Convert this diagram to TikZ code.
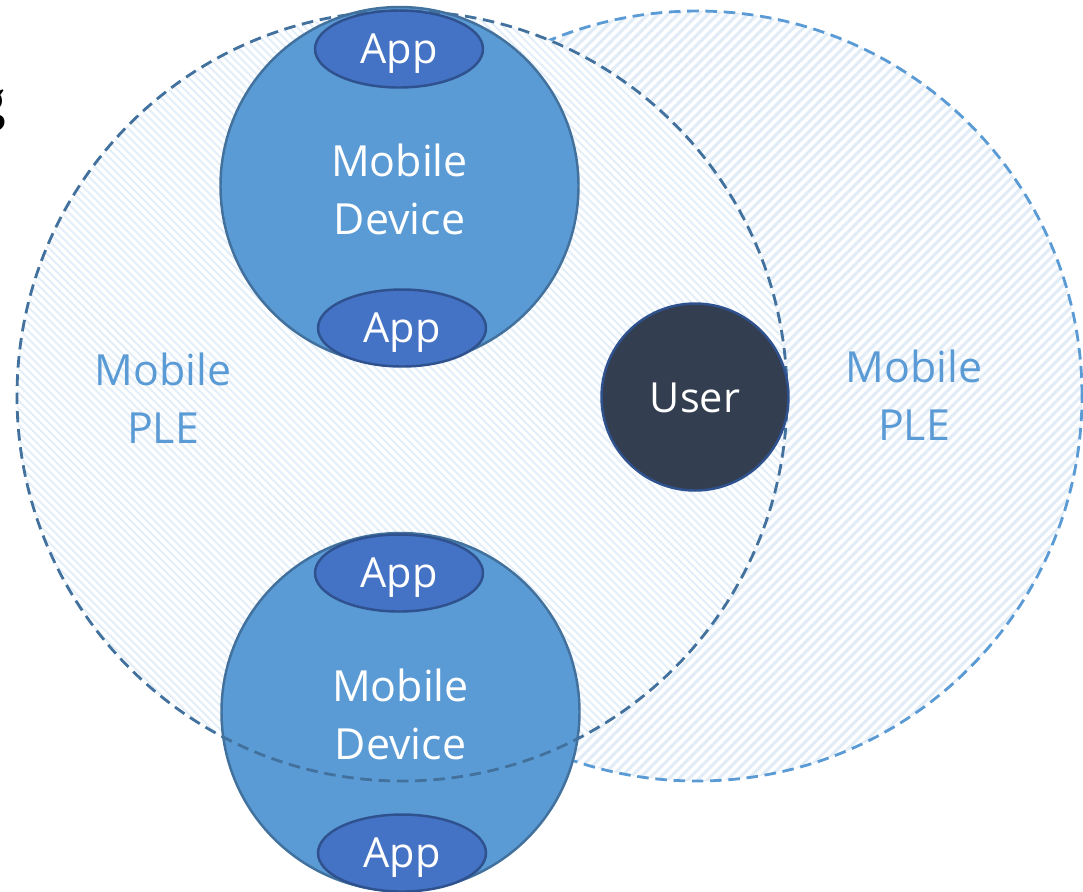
\documentclass[tikz,border=0pt]{standalone}
\usepackage{fontspec}
\setmainfont{Open Sans}
\newfontfamily\gfont{Liberation Serif}
\usetikzlibrary{patterns.meta,shapes.geometric}
\definecolor{pleblue}{HTML}{5B9BD5}
\definecolor{pledark}{HTML}{41719C}
\definecolor{hatchleftc}{HTML}{E3EEF9}
\definecolor{hatchrightc}{HTML}{E1ECF7}
\definecolor{appblue}{HTML}{4472C4}
\definecolor{appline}{HTML}{2F528F}
\definecolor{userfill}{HTML}{333F50}
\tikzset{
  device/.style={circle,draw=pledark,fill=pleblue,line width=0.7pt,minimum size=3.58cm,inner sep=0pt,align=center,text=white,text depth=0pt,font=\fontsize{12.2}{16.5}\selectfont},
  app/.style={ellipse,draw=appline,fill=appblue,line width=0.7pt,minimum width=1.68cm,minimum height=0.77cm,inner sep=0pt},
  applabel/.style={text=white,font=\fontsize{11.8}{15}\selectfont},
  ple/.style={align=center,text=pleblue,font=\fontsize{12.2}{16.5}\selectfont},
  plering/.style={dash pattern=on 3.3pt off 1.9pt,line width=0.8pt},
  hatchleft/.style={pattern={Lines[angle=-45,distance=1.6pt,line width=0.55pt]},pattern color=hatchleftc},
  hatchright/.style={pattern={Lines[angle=45,distance=2pt,line width=0.9pt]},pattern color=hatchrightc}
}
\begin{document}
\begin{tikzpicture}
    \useasboundingbox (0,0) rectangle (10.83,-8.91);
    % right circle first, the left one hides it
    \draw [pleblue,plering,hatchright] (6.97,-3.96) circle (3.85);
    \fill [white] (4.02,-3.96) circle (3.85);
    \fill [hatchleft] (4.02,-3.96) circle (3.85);
    \node [device] (devtop) at (3.995,-1.86) {};
    \node [device] (devbottom) at (4.005,-7.12) {};
    \draw [pledark,plering] (4.02,-3.96) circle (3.85);
    \node [app] (apptopa) at (3.99,-0.49) {};
    \node [app] (apptopb) at (4.02,-3.28) {};
    \node [app] (appbota) at (3.99,-5.73) {};
    \node [app] (appbotb) at (4.02,-8.53) {};
    \node [circle,draw=appline,fill=userfill,line width=0.7pt,minimum size=1.87cm,inner sep=0pt] (user) at (6.95,-3.97) {};
    % labels
    \node [device,draw=none,fill=none] (devtoptext) at (3.995,-1.89) {Mobile\\Device};
    \node [device,draw=none,fill=none] (devbottomtext) at (4.005,-7.14) {Mobile\\Device};
    \node [applabel] (apptopatext) at (3.99,-0.54) {App};
    \node [applabel] (apptopbtext) at (4.02,-3.33) {App};
    \node [applabel] (appbotatext) at (3.99,-5.78) {App};
    \node [applabel] (appbotbtext) at (4.02,-8.58) {App};
    \node [applabel,text depth=0pt] (usertext) at (6.95,-3.98) {User};
    \node [ple] (pleleft) at (1.63,-3.98) {Mobile\\PLE};
    \node [ple] (pleright) at (9.14,-3.95) {Mobile\\PLE};
    \node [anchor=east,inner sep=0pt,font=\gfont\bfseries\fontsize{16.5}{16.5}\selectfont] (cutg) at (0.065,-1.11) {g};
\end{tikzpicture}
\end{document}
